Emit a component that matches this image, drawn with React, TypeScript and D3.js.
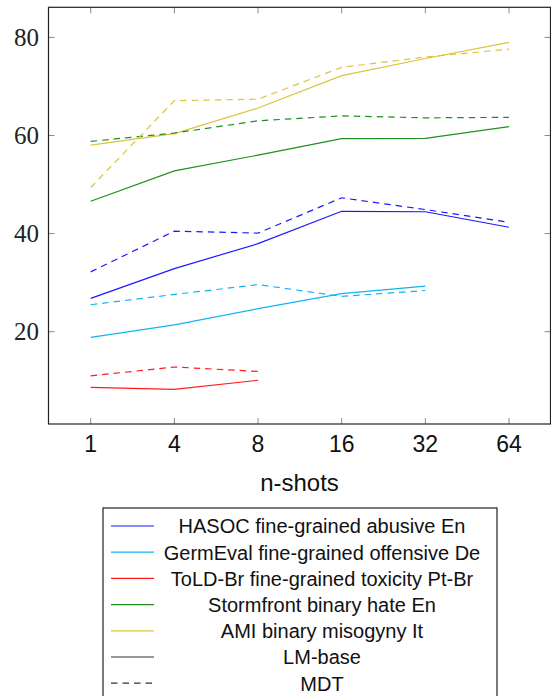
import React from "react";
import * as d3 from "d3";

const shots = ["1", "4", "8", "16", "32", "64"];
const yTicks = [20, 40, 60, 80];

const datasets = [
  "HASOC fine-grained abusive En",
  "GermEval fine-grained offensive De",
  "ToLD-Br fine-grained toxicity Pt-Br",
  "Stormfront binary hate En",
  "AMI binary misogyny It",
];
const colors = ["#1a1aff", "#12b4ee", "#ff1a1a", "#1e901e", "#dcc43c"];

// LM-base (solid)
const hasocBase = [26.8, 32.85, 37.95, 44.55, 44.45, 41.3];
const germBase = [18.85, 21.4, 24.7, 27.75, 29.3];
const toldBase = [8.65, 8.25, 10.1];
const stormBase = [46.6, 52.8, 56.0, 59.35, 59.4, 61.8];
const amiBase = [58.05, 60.4, 65.6, 72.2, 75.7, 79.0];

// MDT (dashed)
const hasocMdt = [32.2, 40.5, 40.1, 47.3, 44.9, 42.3];
const germMdt = [25.5, 27.6, 29.6, 27.2, 28.4];
const toldMdt = [11.0, 12.8, 11.9];
const stormMdt = [58.8, 60.5, 63.0, 64.0, 63.6, 63.7];
const amiMdt = [49.4, 67.1, 67.4, 73.9, 76.0, 77.6];

const baseSeries = [hasocBase, germBase, toldBase, stormBase, amiBase];
const mdtSeries = [hasocMdt, germMdt, toldMdt, stormMdt, amiMdt];

const W = 551;
const H = 696;
const frame = { left: 48.5, right: 550.5, top: 7.3, bottom: 424 };

const x = d3.scalePoint<string>().domain(shots).range([90.7, 509]);
const y = d3.scaleLinear().domain([0, 80]).range([429.8, 37.4]);

const line = d3
  .line<number>()
  .x((_, i) => x(shots[i]) as number)
  .y((d) => y(d));

const DASH = "6.5,5";
const SERIF = "'Liberation Serif', 'Times New Roman', 'DejaVu Serif', serif";
const SANS = "'Liberation Sans', Arial, Helvetica, sans-serif";

export default function App() {
  const legendRows = [
    ...datasets.map((name, i) => ({ name, color: colors[i], dash: undefined as string | undefined })),
    { name: "LM-base", color: "#333", dash: undefined },
    { name: "MDT", color: "#333", dash: DASH },
  ];
  return (
    <svg
      width={W}
      height={H}
      style={{ position: "absolute", left: 0, top: 0 }}
    >
      <rect x={0} y={0} width={W} height={H} fill="#fff" />
      {/* ticks */}
      <g stroke="#8c8c8c" strokeWidth={1}>
        {shots.map((s) => (
          <g key={s}>
            <line x1={x(s)} x2={x(s)} y1={frame.bottom} y2={frame.bottom - 6} />
            <line x1={x(s)} x2={x(s)} y1={frame.top} y2={frame.top + 6} />
          </g>
        ))}
        {yTicks.map((t) => (
          <g key={t}>
            <line x1={frame.left} x2={frame.left + 6} y1={y(t)} y2={y(t)} />
            <line x1={frame.right} x2={frame.right - 6} y1={y(t)} y2={y(t)} />
          </g>
        ))}
      </g>
      {/* series */}
      <g fill="none" strokeWidth={1.2}>
        {baseSeries.map((s, i) => (
          <path key={"b" + i} d={line(s) || ""} stroke={colors[i]} />
        ))}
        {mdtSeries.map((s, i) => (
          <path key={"m" + i} d={line(s) || ""} stroke={colors[i]} strokeDasharray={DASH} />
        ))}
      </g>
      <rect
        x={frame.left}
        y={frame.top}
        width={frame.right - frame.left}
        height={frame.bottom - frame.top}
        fill="none"
        stroke="#222"
        strokeWidth={1.2}
      />
      {/* tick labels */}
      <g style={{ fontFamily: SERIF }} fontSize={25} textAnchor="end" fill="#222">
        {yTicks.map((t) => (
          <text key={t} x={39} y={y(t) + 8.5}>
            {t}
          </text>
        ))}
      </g>
      <g style={{ fontFamily: SANS }} fontSize={23} textAnchor="middle" fill="#111">
        {shots.map((s) => (
          <text key={s} x={x(s)} y={452.3}>
            {s}
          </text>
        ))}
        <text x={(frame.left + frame.right) / 2} y={490.7} fontSize={24}>
          n-shots
        </text>
      </g>
      {/* legend */}
      <rect x={103} y={508} width={394} height={200} fill="#fff" stroke="#222" strokeWidth={1.2} />
      {legendRows.map((r, i) => {
        const ly = 526 + i * 26.2;
        return (
          <g key={r.name}>
            <line x1={111} x2={154} y1={ly} y2={ly} stroke={r.color} strokeWidth={1.2} strokeDasharray={r.dash} />
            <text
              x={322}
              y={ly + 7.3}
              textAnchor="middle"
              style={{ fontFamily: SANS }}
              fontSize={20}
              fill="#111"
            >
              {r.name}
            </text>
          </g>
        );
      })}
    </svg>
  );
}
